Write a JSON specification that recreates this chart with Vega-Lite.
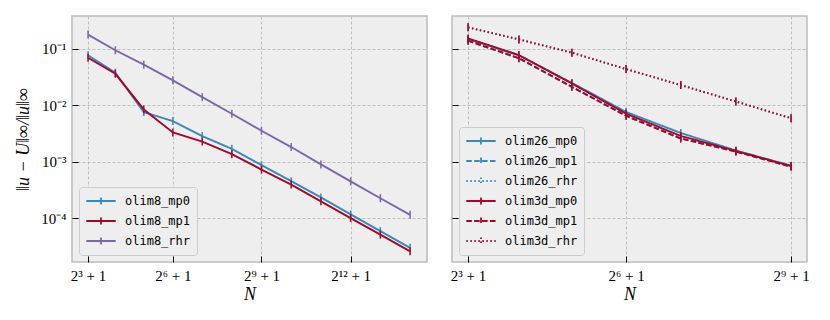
{
  "$schema": "https://vega.github.io/schema/vega-lite/v6.json",
  "padding": {"left": 14, "top": 15, "right": 5, "bottom": 5},
  "spacing": 21,
  "resolve": {
    "scale": {"color": "independent", "strokeDash": "independent"},
    "legend": {"color": "independent", "strokeDash": "independent"}
  },
  "datasets": {
    "left": [
      {"N": 9, "series": "olim8_mp0", "err": 0.0773},
      {"N": 17, "series": "olim8_mp0", "err": 0.0379},
      {"N": 33, "series": "olim8_mp0", "err": 0.0076},
      {"N": 65, "series": "olim8_mp0", "err": 0.00526},
      {"N": 129, "series": "olim8_mp0", "err": 0.00285},
      {"N": 257, "series": "olim8_mp0", "err": 0.00169},
      {"N": 513, "series": "olim8_mp0", "err": 0.00087},
      {"N": 1025, "series": "olim8_mp0", "err": 0.000452},
      {"N": 2049, "series": "olim8_mp0", "err": 0.000232},
      {"N": 4097, "series": "olim8_mp0", "err": 0.000116},
      {"N": 8193, "series": "olim8_mp0", "err": 0.0000585},
      {"N": 16385, "series": "olim8_mp0", "err": 0.0000296},
      {"N": 9, "series": "olim8_mp1", "err": 0.070},
      {"N": 17, "series": "olim8_mp1", "err": 0.0363},
      {"N": 33, "series": "olim8_mp1", "err": 0.00845},
      {"N": 65, "series": "olim8_mp1", "err": 0.0033},
      {"N": 129, "series": "olim8_mp1", "err": 0.00228},
      {"N": 257, "series": "olim8_mp1", "err": 0.00136},
      {"N": 513, "series": "olim8_mp1", "err": 0.000726},
      {"N": 1025, "series": "olim8_mp1", "err": 0.000393},
      {"N": 2049, "series": "olim8_mp1", "err": 0.000198},
      {"N": 4097, "series": "olim8_mp1", "err": 0.0001},
      {"N": 8193, "series": "olim8_mp1", "err": 0.0000507},
      {"N": 16385, "series": "olim8_mp1", "err": 0.0000257},
      {"N": 9, "series": "olim8_rhr", "err": 0.18},
      {"N": 17, "series": "olim8_rhr", "err": 0.095},
      {"N": 33, "series": "olim8_rhr", "err": 0.0526},
      {"N": 65, "series": "olim8_rhr", "err": 0.0278},
      {"N": 129, "series": "olim8_rhr", "err": 0.0140},
      {"N": 257, "series": "olim8_rhr", "err": 0.0071},
      {"N": 513, "series": "olim8_rhr", "err": 0.00354},
      {"N": 1025, "series": "olim8_rhr", "err": 0.00182},
      {"N": 2049, "series": "olim8_rhr", "err": 0.000895},
      {"N": 4097, "series": "olim8_rhr", "err": 0.000447},
      {"N": 8193, "series": "olim8_rhr", "err": 0.000225},
      {"N": 16385, "series": "olim8_rhr", "err": 0.000114}
    ],
    "right": [
      {"N": 9, "series": "olim26_mp0", "err": 0.150},
      {"N": 17, "series": "olim26_mp0", "err": 0.077},
      {"N": 33, "series": "olim26_mp0", "err": 0.025},
      {"N": 65, "series": "olim26_mp0", "err": 0.00764},
      {"N": 129, "series": "olim26_mp0", "err": 0.00323},
      {"N": 257, "series": "olim26_mp0", "err": 0.00158},
      {"N": 513, "series": "olim26_mp0", "err": 0.00085},
      {"N": 9, "series": "olim26_mp1", "err": 0.139},
      {"N": 17, "series": "olim26_mp1", "err": 0.068},
      {"N": 33, "series": "olim26_mp1", "err": 0.0212},
      {"N": 65, "series": "olim26_mp1", "err": 0.0066},
      {"N": 129, "series": "olim26_mp1", "err": 0.0026},
      {"N": 257, "series": "olim26_mp1", "err": 0.00152},
      {"N": 513, "series": "olim26_mp1", "err": 0.00082},
      {"N": 9, "series": "olim26_rhr", "err": 0.242},
      {"N": 17, "series": "olim26_rhr", "err": 0.148},
      {"N": 33, "series": "olim26_rhr", "err": 0.086},
      {"N": 65, "series": "olim26_rhr", "err": 0.044},
      {"N": 129, "series": "olim26_rhr", "err": 0.0229},
      {"N": 257, "series": "olim26_rhr", "err": 0.0117},
      {"N": 513, "series": "olim26_rhr", "err": 0.0059},
      {"N": 9, "series": "olim3d_mp0", "err": 0.154},
      {"N": 17, "series": "olim3d_mp0", "err": 0.078},
      {"N": 33, "series": "olim3d_mp0", "err": 0.0244},
      {"N": 65, "series": "olim3d_mp0", "err": 0.00714},
      {"N": 129, "series": "olim3d_mp0", "err": 0.00286},
      {"N": 257, "series": "olim3d_mp0", "err": 0.00155},
      {"N": 513, "series": "olim3d_mp0", "err": 0.000838},
      {"N": 9, "series": "olim3d_mp1", "err": 0.1406},
      {"N": 17, "series": "olim3d_mp1", "err": 0.069},
      {"N": 33, "series": "olim3d_mp1", "err": 0.0213},
      {"N": 65, "series": "olim3d_mp1", "err": 0.0065},
      {"N": 129, "series": "olim3d_mp1", "err": 0.00257},
      {"N": 257, "series": "olim3d_mp1", "err": 0.00151},
      {"N": 513, "series": "olim3d_mp1", "err": 0.000815},
      {"N": 9, "series": "olim3d_rhr", "err": 0.242},
      {"N": 17, "series": "olim3d_rhr", "err": 0.148},
      {"N": 33, "series": "olim3d_rhr", "err": 0.086},
      {"N": 65, "series": "olim3d_rhr", "err": 0.044},
      {"N": 129, "series": "olim3d_rhr", "err": 0.0229},
      {"N": 257, "series": "olim3d_rhr", "err": 0.0117},
      {"N": 513, "series": "olim3d_rhr", "err": 0.0059}
    ]
  },
  "config": {
    "view": {"fill": "#eeeeee", "stroke": "#bcbcbc", "strokeWidth": 1.5},
    "axis": {
      "domain": false,
      "labelFont": "Liberation Serif",
      "labelFontSize": 15,
      "labelColor": "#000000",
      "titleFont": "Liberation Serif",
      "titleFontSize": 18,
      "titleFontStyle": "italic",
      "titleFontWeight": "normal",
      "titleColor": "#000000",
      "tickColor": "#000000",
      "tickSize": -6,
      "tickWidth": 1,
      "labelPadding": 12,
      "gridColor": "#b2b2b2",
      "gridDash": [3, 2],
      "gridWidth": 0.8
    },
    "legend": {
      "orient": "bottom-left",
      "offset": 7,
      "fillColor": "#eeeeee",
      "strokeColor": "#cccccc",
      "cornerRadius": 3,
      "padding": 6,
      "title": null,
      "labelFont": "DejaVu Sans Mono",
      "labelFontSize": 12,
      "labelColor": "#000000",
      "symbolSize": 196,
      "symbolStrokeWidth": 1.8,
      "symbolOffset": 8,
      "symbolType": "M-2.1,0L2.1,0M0,-0.5L0,0.5",
      "rowPadding": 4,
      "labelOffset": 16
    }
  },
  "hconcat": [
    {
      "width": 355,
      "height": 246,
      "data": {"name": "left"},
      "encoding": {
        "x": {
          "field": "N", "type": "quantitative",
          "scale": {"type": "log", "domain": [6.19, 24300], "nice": false, "zero": false},
          "axis": {
            "values": [9, 65, 513, 4097],
            "labelExpr": "datum.value == 9 ? '2³ + 1' : datum.value == 65 ? '2⁶ + 1' : datum.value == 513 ? '2⁹ + 1' : '2¹² + 1'",
            "title": "N",
            "titlePadding": 2
          }
        },
        "y": {
          "field": "err", "type": "quantitative",
          "scale": {"type": "log", "domain": [0.0000166, 0.385], "nice": false, "zero": false},
          "axis": {
            "values": [0.1, 0.01, 0.001, 0.0001],
            "labelExpr": "datum.value >= 0.05 ? '10⁻¹' : datum.value >= 0.005 ? '10⁻²' : datum.value >= 0.0005 ? '10⁻³' : '10⁻⁴'",
            "title": "‖u − U‖∞/‖u‖∞",
            "titlePadding": 8
          }
        },
        "color": {
          "field": "series", "type": "nominal",
          "scale": {"domain": ["olim8_mp0", "olim8_mp1", "olim8_rhr"], "range": ["#348ABD", "#A60628", "#7A68A6"]},
          "legend": {}
        }
      },
      "layer": [
        {"mark": {"type": "line", "strokeWidth": 1.9}},
        {"mark": {"type": "point", "shape": "M0,-1L0,1", "filled": false, "size": 64, "strokeWidth": 1.5, "opacity": 1}}
      ]
    },
    {
      "width": 355,
      "height": 246,
      "data": {"name": "right"},
      "encoding": {
        "x": {
          "field": "N", "type": "quantitative",
          "scale": {"type": "log", "domain": [7.36, 626], "nice": false, "zero": false},
          "axis": {
            "values": [9, 65, 513],
            "labelExpr": "datum.value == 9 ? '2³ + 1' : datum.value == 65 ? '2⁶ + 1' : '2⁹ + 1'",
            "title": "N",
            "titlePadding": 2
          }
        },
        "y": {
          "field": "err", "type": "quantitative",
          "scale": {"type": "log", "domain": [0.0000166, 0.385], "nice": false, "zero": false},
          "axis": {
            "values": [0.1, 0.01, 0.001, 0.0001],
            "labels": false,
            "title": null
          }
        },
        "color": {
          "field": "series", "type": "nominal",
          "scale": {
            "domain": ["olim26_mp0", "olim26_mp1", "olim26_rhr", "olim3d_mp0", "olim3d_mp1", "olim3d_rhr"],
            "range": ["#348ABD", "#348ABD", "#348ABD", "#A60628", "#A60628", "#A60628"]
          },
          "legend": {
            "encode": {
              "symbols": {
                "update": {
                  "strokeDash": {"signal": "indexof(datum.value, 'mp1') >= 0 ? [5.5, 2.4] : indexof(datum.value, 'rhr') >= 0 ? [1.5, 2.5] : [1, 0]"}
                }
              }
            }
          }
        }
      },
      "layer": [
        {
          "mark": {"type": "line", "strokeWidth": 1.9},
          "encoding": {
            "strokeDash": {
              "field": "series", "type": "nominal",
              "scale": {
                "domain": ["olim26_mp0", "olim26_mp1", "olim26_rhr", "olim3d_mp0", "olim3d_mp1", "olim3d_rhr"],
                "range": [[1, 0], [5.5, 2.4], [1.5, 2.5], [1, 0], [5.5, 2.4], [1.5, 2.5]]
              },
              "legend": null
            }
          }
        },
        {"mark": {"type": "point", "shape": "M0,-1L0,1", "filled": false, "size": 64, "strokeWidth": 1.5, "opacity": 1}}
      ]
    }
  ]
}
